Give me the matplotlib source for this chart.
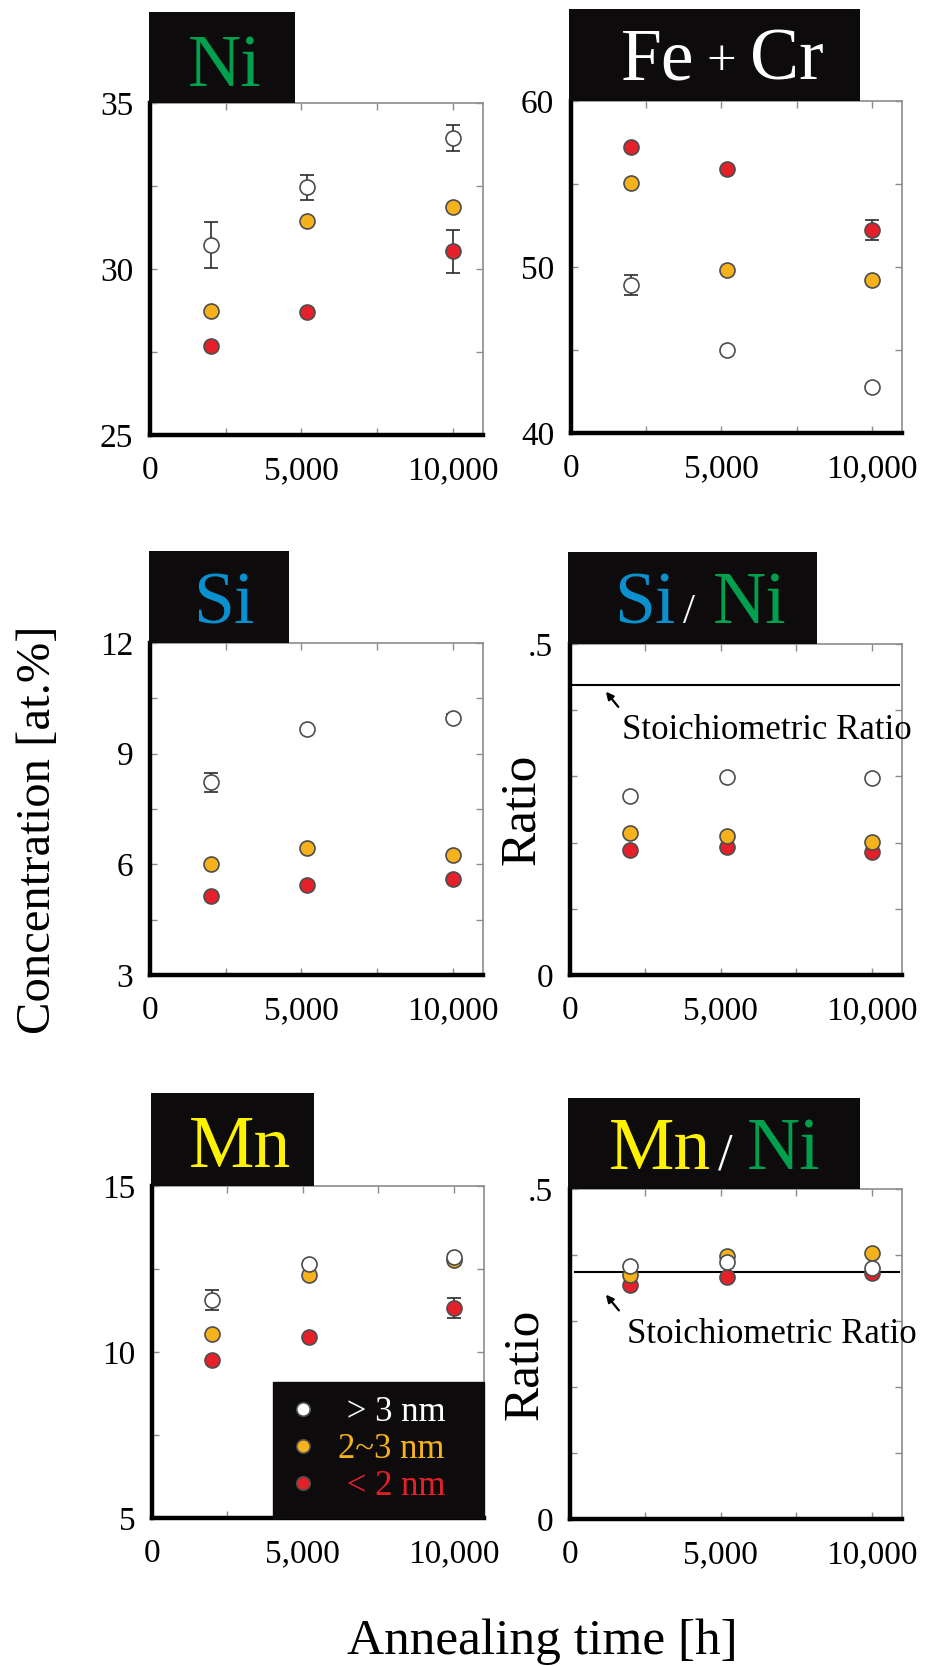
import numpy as np
import matplotlib
matplotlib.use("Agg")
import matplotlib.pyplot as plt
from matplotlib.patches import Rectangle

# ------------------------------------------------------------------
# data
# ------------------------------------------------------------------
times = [2000, 5200, 10000]  # annealing time [h]

size_labels = ['> 3 nm', '2~3 nm', '< 2 nm']

ni_large = [30.73, 32.46, 33.94]
ni_large_err = [0.70, 0.38, 0.40]
ni_mid = [28.74, 31.46, 31.88]
ni_small = [27.69, 28.70, 30.53]
ni_small_err = [0.0, 0.0, 0.65]

fecr_large = [48.90, 44.99, 42.75]
fecr_large_err = [0.60, 0.0, 0.0]
fecr_mid = [55.07, 49.80, 49.19]
fecr_small = [57.23, 55.89, 52.22]
fecr_small_err = [0.0, 0.0, 0.60]

si_large = [8.22, 9.68, 9.98]
si_large_err = [0.25, 0.0, 0.10]
si_mid = [6.02, 6.44, 6.26]
si_small = [5.15, 5.45, 5.60]

sini_large = [0.271, 0.299, 0.298]
sini_mid = [0.214, 0.210, 0.201]
sini_small = [0.189, 0.194, 0.186]
sini_stoich = 0.4375

mn_large = [11.57, 12.65, 12.86]
mn_large_err = [0.30, 0.10, 0.10]
mn_mid = [10.55, 12.33, 12.78]
mn_small = [9.77, 10.45, 11.33]
mn_small_err = [0.0, 0.0, 0.30]

mnni_large = [0.383, 0.390, 0.381]
mnni_mid = [0.370, 0.398, 0.403]
mnni_small = [0.355, 0.367, 0.372]
mnni_stoich = 0.375

# ------------------------------------------------------------------
# style
# ------------------------------------------------------------------
W, H = 927, 1666
plt.rcParams['font.family'] = ['Liberation Serif', 'DejaVu Serif']

C_WHITE = '#ffffff'
C_ORANGE = '#f6b21c'
C_RED = '#e4202a'
C_EDGE = '#4d4d4d'
C_GREEN = '#00a04e'
C_BLUE = '#0a90cf'
C_YELLOW = '#fff200'
C_GRAY = '#8c8c8c'
C_BOX = '#0d0b0b'

TICK_FS = 24
TITLE_FS = 53


def rect(l, t, r, b):
    return [l / W, 1 - b / H, (r - l) / W, (b - t) / H]


def fxy(x, y):
    return x / W, 1 - y / H


fig = plt.figure(figsize=(W / 100, H / 100), dpi=100)


def make_axes(box, ylim, yticks, ylabels):
    ax = fig.add_axes(rect(*box))
    ax.set_xlim(0, 11000)
    ax.set_ylim(*ylim)
    ax.set_xticks([0, 2500, 5000, 7500, 10000])
    ax.set_xticklabels(['0', '', '5,000', '', '10,000'])
    ax.set_yticks(yticks)
    ax.set_yticklabels(ylabels)
    ax.tick_params(direction='in', length=5, width=1, color=C_GRAY,
                   top=True, right=True, labelsize=TICK_FS)
    ax.tick_params(axis='x', pad=15)
    ax.tick_params(axis='y', pad=12)
    for s in ['left', 'bottom']:
        ax.spines[s].set_linewidth(3.2)
        ax.spines[s].set_color('black')
        ax.spines[s].set_zorder(6)
    for s in ['top', 'right']:
        ax.spines[s].set_linewidth(1.2)
        ax.spines[s].set_color(C_GRAY)
    return ax


def draw_series(ax, large, mid, small, large_err=None, small_err=None):
    kw = dict(marker='o', markersize=10.8, markeredgecolor=C_EDGE,
              markeredgewidth=1.2, linestyle='none')
    ekw = dict(fmt='none', ecolor='#2b2b2b', elinewidth=1.2, capsize=4.7,
               capthick=1.2)
    if small_err is not None:
        ax.errorbar(times, small, yerr=small_err, zorder=3, **ekw)
    ax.plot(times, small, color=C_RED, markerfacecolor=C_RED, zorder=4,
            label=size_labels[2], **kw)
    ax.plot(times, mid, color=C_ORANGE, markerfacecolor=C_ORANGE, zorder=5,
            label=size_labels[1], **kw)
    if large_err is not None:
        ax.errorbar(times, large, yerr=large_err, zorder=5.5, **ekw)
    ax.plot(times, large, color=C_WHITE, markerfacecolor=C_WHITE, zorder=6,
            label=size_labels[0], **kw)


def title_box(ax, x0, w, h):
    ax.add_patch(Rectangle((x0, 1.0), w, h, transform=ax.transAxes,
                           facecolor=C_BOX, edgecolor='none',
                           clip_on=False, zorder=7))


def title_text(pieces, baseline):
    # pieces: (text, colour, fontsize, left edge px, baseline shift px)
    for txt, color, fs, xl, dy in pieces:
        x, y = fxy(xl, baseline + dy)
        fig.text(x, y, txt, color=color, fontsize=fs, ha='left',
                 va='baseline', zorder=10)


def stoich(ax, value, xmin, tip, tail, text_xy):
    ax.axhline(value, xmin=xmin, xmax=0.99, color='black', lw=1.5, zorder=2)
    ax.annotate('', xy=tip, xytext=tail,
                arrowprops=dict(arrowstyle='-|>', color='black', lw=1.6,
                                mutation_scale=11, shrinkA=0, shrinkB=0))
    ax.text(text_xy[0], text_xy[1], 'Stoichiometric Ratio', fontsize=25,
            ha='left', va='center', clip_on=False)


# ------------------------------------------------------------------
# Ni
# ------------------------------------------------------------------
ax_ni = make_axes((150, 103, 483, 435), (25, 35),
                  [25, 27.5, 30, 32.5, 35], ['25', '', '30', '', '35'])
draw_series(ax_ni, ni_large, ni_mid, ni_small, ni_large_err, ni_small_err)
title_box(ax_ni, -0.003, 0.438, 0.274)
title_text([('Ni', C_GREEN, TITLE_FS, 188, 0)], 86)

# ------------------------------------------------------------------
# Fe + Cr
# ------------------------------------------------------------------
ax_fe = make_axes((571, 101, 902, 433), (40, 60),
                  [40, 45, 50, 55, 60], ['40', '', '50', '', '60'])
draw_series(ax_fe, fecr_large, fecr_mid, fecr_small, fecr_large_err,
            fecr_small_err)
title_box(ax_fe, -0.006, 0.879, 0.277)
title_text([('Fe', 'white', TITLE_FS, 621, 0), ('+', 'white', 38, 706, -5),
            ('Cr', 'white', TITLE_FS, 750, 0)], 80)

# ------------------------------------------------------------------
# Si
# ------------------------------------------------------------------
ax_si = make_axes((150, 643, 483, 975), (3, 12),
                  [3, 4.5, 6, 7.5, 9, 10.5, 12],
                  ['3', '', '6', '', '9', '', '12'])
draw_series(ax_si, si_large, si_mid, si_small, si_large_err)
title_box(ax_si, -0.003, 0.419, 0.278)
title_text([('Si', C_BLUE, TITLE_FS, 193, 0)], 623)

# ------------------------------------------------------------------
# Si / Ni
# ------------------------------------------------------------------
ax_sini = make_axes((570, 644, 902, 975), (0, 0.5),
                    [0, 0.1, 0.2, 0.3, 0.4, 0.5],
                    ['0', '', '', '', '', '.5'])
stoich(ax_sini, sini_stoich, 0.0, (1190, 0.428), (1600, 0.405),
       (1730, 0.370))
draw_series(ax_sini, sini_large, sini_mid, sini_small)
title_box(ax_sini, -0.007, 0.752, 0.277)
title_text([('Si', C_BLUE, TITLE_FS, 614, 0), ('/', 'white', 31, 683, 0),
            ('Ni', C_GREEN, TITLE_FS, 713, 0)], 623)
ax_sini.set_ylabel('Ratio', fontsize=37)
ax_sini.yaxis.set_label_coords(-0.075, 0.5)

# ------------------------------------------------------------------
# Mn
# ------------------------------------------------------------------
ax_mn = make_axes((152, 1186, 484, 1518), (5, 15),
                  [5, 7.5, 10, 12.5, 15], ['5', '', '10', '', '15'])
draw_series(ax_mn, mn_large, mn_mid, mn_small, mn_large_err, mn_small_err)
title_box(ax_mn, -0.003, 0.49, 0.28)
title_text([('Mn', C_YELLOW, TITLE_FS, 189, 0)], 1167)

h, l = ax_mn.get_legend_handles_labels()
order = [l.index(s) for s in size_labels]
leg_labels = [' ' + size_labels[0], size_labels[1], ' ' + size_labels[2]]
leg = ax_mn.legend([h[i] for i in order], leg_labels, loc='lower right',
                   bbox_to_anchor=(0.3636, 0.0, 0.6364, 0.43),
                   mode='expand', borderaxespad=0, fontsize=25,
                   frameon=True, fancybox=False, framealpha=1,
                   facecolor=C_BOX, edgecolor=C_BOX,
                   markerscale=0.9, handlelength=0.9, handletextpad=0.55,
                   labelspacing=0.12, borderpad=0.42)
leg.set_zorder(8)
for t, c in zip(leg.get_texts(), [C_WHITE, C_ORANGE, C_RED]):
    t.set_color(c)

# ------------------------------------------------------------------
# Mn / Ni
# ------------------------------------------------------------------
ax_mnni = make_axes((570, 1189, 902, 1519), (0, 0.5),
                    [0, 0.1, 0.2, 0.3, 0.4, 0.5],
                    ['0', '', '', '', '', '.5'])
stoich(ax_mnni, mnni_stoich, 0.015, (1190, 0.340), (1620, 0.316),
       (1900, 0.280))
draw_series(ax_mnni, mnni_large, mnni_mid, mnni_small)
title_box(ax_mnni, -0.006, 0.879, 0.276)
title_text([('Mn', C_YELLOW, TITLE_FS, 609, 0), ('/', 'white', 38, 718, 0),
            ('Ni', C_GREEN, TITLE_FS, 747, 0)], 1169)
ax_mnni.set_ylabel('Ratio', fontsize=37)
ax_mnni.yaxis.set_label_coords(-0.066, 0.47)

# ------------------------------------------------------------------
# shared axis labels
# ------------------------------------------------------------------
x, y = fxy(38, 830)
fig.text(x, y, 'Concentration [at.%]', fontsize=35, rotation=90,
         ha='center', va='center')
x, y = fxy(542, 1654)
fig.text(x, y, 'Annealing time [h]', fontsize=37, ha='center',
         va='baseline')

fig.savefig('out.png', dpi=100, facecolor='white')
